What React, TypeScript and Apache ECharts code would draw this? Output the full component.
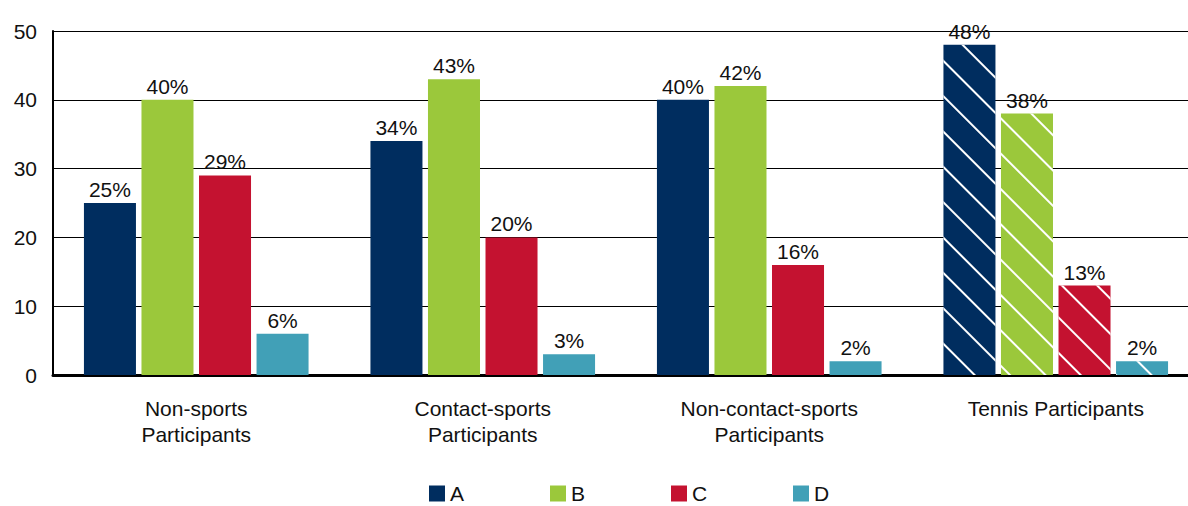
import React, { useEffect, useRef } from "react";
import * as echarts from "echarts";

const categories = [
  "Non-sports\nParticipants",
  "Contact-sports\nParticipants",
  "Non-contact-sports\nParticipants",
  "Tennis Participants",
];
const seriesNames = ["A", "B", "C", "D"];
const valuesA = [25, 34, 40, 48];
const valuesB = [40, 43, 42, 38];
const valuesC = [29, 20, 16, 13];
const valuesD = [6, 3, 2, 2];
const colors = ["#002D5F", "#9BC83B", "#C41230", "#41A0B7"];
const hatchedIndex = 3;

const FONT = "'Liberation Sans', Arial, Helvetica, sans-serif";

export default function App() {
  const ref = useRef<HTMLDivElement>(null);
  useEffect(() => {
    if (!ref.current) return;
    const chart = echarts.init(ref.current, undefined, { renderer: "svg" });
    const allValues = [valuesA, valuesB, valuesC, valuesD];
    const decal = {
      symbol: "rect",
      symbolSize: 1,
      color: "#ffffff",
      dashArrayX: [1, 0],
      dashArrayY: [2, 23],
      rotation: Math.PI / 4,
    };
    const series = seriesNames.map((name, si) => ({
      name,
      type: "bar",
      barCategoryGap: "21.6%",
      barGap: "10.6%",
      itemStyle: { color: colors[si] },
      label: {
        show: true,
        position: "top",
        distance: 3,
        formatter: "{c}%",
        color: "#111",
        fontSize: 21,
        fontFamily: FONT,
      },
      data: allValues[si].map((v, i) =>
        i === hatchedIndex ? { value: v, itemStyle: { decal } } : { value: v }
      ),
    }));
    const legendLefts = [429, 550, 671, 793];
    chart.setOption({
      animation: false,
      aria: { enabled: false, decal: { show: false } },
      grid: { left: 53, top: 31, bottom: 131, width: 1146 },
      legend: seriesNames.map((n, i) => ({
        data: [n],
        left: legendLefts[i],
        top: 483,
        padding: 0,
        itemWidth: 16,
        itemHeight: 16,
        itemGap: 5,
        icon: "rect",
        textStyle: { fontSize: 21, color: "#111", fontFamily: FONT },
        selectedMode: false,
      })),
      xAxis: {
        type: "category",
        data: categories,
        axisLine: { show: true, lineStyle: { color: "#000", width: 3 } },
        axisTick: { show: false },
        axisLabel: {
          fontSize: 21,
          color: "#111",
          fontFamily: FONT,
          lineHeight: 26,
          margin: 20,
          interval: 0,
        },
      },
      yAxis: {
        type: "value",
        min: 0,
        max: 50,
        interval: 10,
        axisLine: { show: true, lineStyle: { color: "#000", width: 2 } },
        axisTick: { show: false },
        splitLine: { show: true, lineStyle: { color: "#000", width: 1 } },
        axisLabel: {
          fontSize: 21,
          color: "#111",
          fontFamily: FONT,
          margin: 16,
        },
      },
      series,
    });
    return () => chart.dispose();
  }, []);
  return (
    <div
      style={{
        position: "fixed",
        left: 0,
        top: 0,
        width: 1188,
        height: 506,
        overflow: "hidden",
        background: "#fff",
      }}
    >
      <div ref={ref} style={{ width: 1205, height: 506 }} />
    </div>
  );
}
